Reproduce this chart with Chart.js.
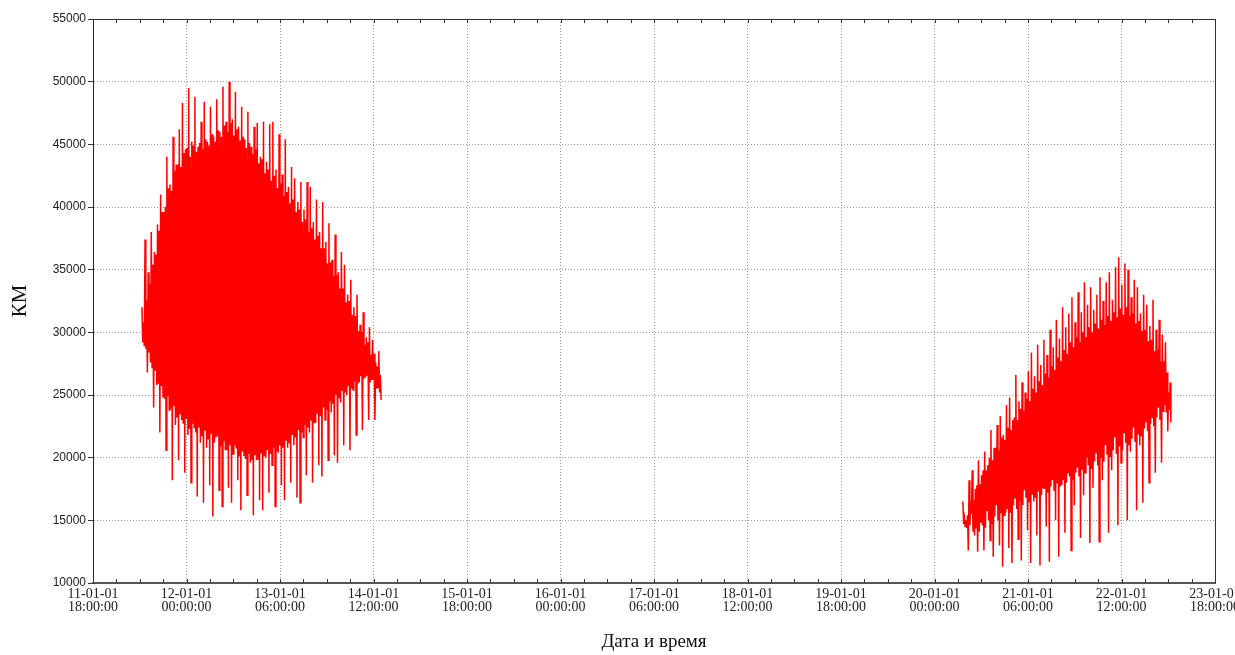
<!DOCTYPE html>
<html lang="ru">
<head>
<meta charset="UTF-8">
<title>КМ</title>
<script src="https://cdn.jsdelivr.net/npm/chart.js"></script>
<style>
    body { margin: 0; background: #fff; }
    canvas { display: block; }
</style>
</head>
<body>
<canvas id="grafico" width="1235" height="655"></canvas>
<script>
// hours counted from the first tick (11-01-01 18:00:00), one tick every 30 h
var tickDates = ['11-01-01', '12-01-01', '13-01-01', '14-01-01', '15-01-01', '16-01-01', '17-01-01',
                 '18-01-01', '19-01-01', '20-01-01', '21-01-01', '22-01-01', '23-01-01'];
var tickTimes = ['18:00:00', '00:00:00', '06:00:00', '12:00:00', '18:00:00', '00:00:00', '06:00:00',
                 '12:00:00', '18:00:00', '00:00:00', '06:00:00', '12:00:00', '18:00:00'];

// first pass, one group per hour: peak, inner low, inner high, dip (KM)
var pass1Start = 15.7;
var pass1Peak = [32000, 37400, 34800, 38000, 36400, 38600, 41000, 39600, 44000, 41800,
                 45600, 43400, 46200, 48300, 44600, 49500, 45200, 48800, 44800, 46800,
                 48400, 45200, 48000, 45600, 48600, 46000, 49600, 46800, 50000, 47000,
                 49200, 46400, 48000, 45400, 47600, 44800, 46400, 46700, 44000, 46800,
                 43600, 46600, 46800, 43000, 45800, 42600, 45400, 41600, 43200, 42300,
                 40400, 42000, 39800, 42000, 41600, 38800, 40600, 38000, 40400, 37200,
                 38700, 35800, 37800, 34800, 36400, 35400, 33000, 34200, 32000, 33000,
                 30600, 31600, 29600, 30400, 29400, 27600, 28500];
var pass1InnerLow = [29200, 28700, 28400, 27200, 27000, 25900, 25700, 24700, 24900, 23900,
                     24100, 23200, 23500, 22700, 23100, 22300, 22700, 22000, 22400, 21700,
                     22200, 21500, 21900, 21200, 21700, 20900, 21300, 20600, 21000, 20300,
                     20800, 20100, 20500, 19900, 20300, 19800, 20200, 19900, 20400, 20100,
                     20600, 20300, 20800, 20500, 21000, 20800, 21400, 21200, 21800, 21600,
                     22200, 22000, 22600, 22400, 23000, 22800, 23500, 23300, 24000, 23800,
                     24500, 24300, 25000, 24800, 25400, 25200, 25700, 25500, 26100, 25900,
                     26500, 26300, 26600, 26000, 26200, 25500, 25200];
var pass1InnerHigh = [30800, 32600, 33900, 35400, 36200, 38100, 39600, 40000, 41500, 41300,
                      42900, 43400, 43200, 44300, 44700, 44000, 44900, 44400, 45100, 44600,
                      45400, 44900, 45800, 45200, 46100, 45600, 46500, 46000, 46700, 45700,
                      46200, 45300, 45600, 44700, 45100, 44200, 44600, 43500, 43800, 42700,
                      43000, 42100, 42500, 41500, 41900, 40900, 41200, 40300, 40600, 39600,
                      39800, 38800, 39000, 38000, 38300, 37400, 37700, 36700, 36700, 35500,
                      35600, 34500, 34600, 33500, 33500, 32400, 32500, 31400, 31300, 30100,
                      30000, 29000, 29200, 28200, 28300, 27300, 26600];
var pass1Dip = [28900, 26800, 27600, 24000, 25800, 22000, 24800, 20600, 23800, 18200,
                22600, 19800, 23000, 18800, 21800, 18000, 22400, 16900, 21200, 16400,
                20800, 17800, 15300, 21600, 17400, 16100, 20600, 17600, 16400, 21000,
                18200, 15800, 20200, 17000, 19600, 15400, 19800, 16600, 15800, 20000,
                17200, 19400, 16100, 20400, 17800, 16600, 20800, 18000, 21000, 16800,
                16400, 21600, 18600, 22000, 18000, 22800, 19400, 18500, 23000, 19800,
                23600, 20200, 19600, 24400, 21000, 25000, 20600, 25400, 21800, 26000,
                22200, 26400, 23000, 26200, 23000, 25600, 24600];

// second pass
var pass2Start = 279.1;
var pass2Peak = [16500, 15000, 18200, 19000, 17500, 19800, 18600, 20500, 19400, 22200,
                 20800, 22600, 23300, 21800, 24200, 24800, 23000, 26600, 24500, 26000,
                 25200, 26900, 28400, 26500, 29000, 27400, 29400, 28200, 30200, 28800,
                 31000, 29500, 32000, 30400, 31500, 32800, 30800, 33200, 31600, 34000,
                 32200, 33600, 31800, 33000, 34400, 32500, 34000, 34800, 32600, 35200,
                 36000, 33800, 35500, 35000, 32800, 34200, 33600, 31500, 33000, 32200,
                 30500, 32600, 30200, 31000, 29800, 29200, 25200];
var pass2InnerLow = [14700, 14400, 14600, 14100, 14400, 14100, 14600, 14400, 15000, 14700,
                     15300, 15000, 15600, 15400, 15900, 15600, 16200, 15900, 16500, 16200,
                     16800, 16500, 17100, 16800, 17300, 17000, 17500, 17200, 17700, 17400,
                     18000, 17700, 18200, 18000, 18500, 18200, 18800, 18500, 19100, 18800,
                     19400, 19100, 19700, 19400, 20000, 19700, 20300, 20100, 20600, 20300,
                     20900, 20600, 21200, 21000, 21500, 21300, 21900, 21700, 22300, 22100,
                     22700, 22500, 23200, 23000, 23700, 23600, 23800];
var pass2InnerHigh = [15200, 15400, 16500, 16600, 17800, 17900, 19000, 19000, 20000, 19800,
                      20800, 20600, 21600, 21400, 22400, 22200, 23200, 23000, 23900, 23700,
                      24700, 24500, 25500, 25200, 26100, 25800, 26700, 26400, 27300, 27000,
                      28000, 27700, 28600, 28300, 29200, 28800, 29600, 29200, 30000, 29600,
                      30400, 30000, 30700, 30300, 31000, 30600, 31300, 30900, 31600, 31200,
                      31900, 31400, 32000, 31300, 31500, 30700, 30900, 30100, 30200, 29300,
                      29400, 28500, 28600, 27700, 27700, 26800, 26000];
var pass2Dip = [14500, 12600, 15500, 13800, 12500, 14800, 12600, 15800, 13400, 12100,
                16200, 13000, 11300, 15600, 12800, 11600, 16800, 13500, 11800, 17400,
                14200, 11600, 16500, 13800, 11400, 17600, 14500, 11700, 18200, 15000,
                12100, 17800, 14000, 18800, 12600, 16200, 19200, 13600, 17000, 20000,
                13200, 17600, 20400, 13300, 18200, 21000, 14000, 19000, 21600, 14600,
                19600, 22000, 15000, 20500, 22400, 15800, 21000, 16400, 22800, 18000,
                23200, 18800, 24000, 19600, 24200, 22100, 22800];

// four samples per hour, in time order
function buildSeries(start, peak, innerLow, innerHigh, dip) {
    var pts = [];
    for (var i = 0; i < peak.length; i++) {
        pts.push({ x: start + i, y: peak[i] });
        pts.push({ x: start + i + 0.25, y: innerLow[i] });
        pts.push({ x: start + i + 0.5, y: innerHigh[i] });
        pts.push({ x: start + i + 0.75, y: dip[i] });
    }
    return pts;
}

var framePlugin = {
    id: 'frame',
    afterDraw: function (chart) {
        var ctx = chart.ctx, a = chart.chartArea, x = chart.scales.x;
        ctx.save();
        ctx.strokeStyle = '#333';
        ctx.lineWidth = 1;
        ctx.beginPath();
        ctx.moveTo(a.left, a.top + 0.5);
        ctx.lineTo(a.right + 0.5, a.top + 0.5);
        ctx.lineTo(a.right + 0.5, a.bottom);
        x.ticks.forEach(function (t) {
            var px = Math.round(x.getPixelForValue(t.value)) + 0.5;
            ctx.moveTo(px, a.bottom);
            ctx.lineTo(px, a.bottom - 4);
            ctx.moveTo(px, a.top);
            ctx.lineTo(px, a.top + 4);
        });
        ctx.stroke();
        ctx.restore();
    }
};

var grafico = new Chart(document.getElementById('grafico').getContext('2d'), {
    type: 'line',
    data: {
        datasets: [
            {
                data: buildSeries(pass1Start, pass1Peak, pass1InnerLow, pass1InnerHigh, pass1Dip),
                borderColor: '#ff0000', borderWidth: 1.5, pointRadius: 0, tension: 0
            },
            {
                data: buildSeries(pass2Start, pass2Peak, pass2InnerLow, pass2InnerHigh, pass2Dip),
                borderColor: '#ff0000', borderWidth: 1.5, pointRadius: 0, tension: 0
            }
        ]
    },
    options: {
        responsive: false,
        animation: false,
        layout: { padding: { top: 19, right: 20, left: 0, bottom: 0 } },
        plugins: { legend: { display: false }, tooltip: { enabled: false } },
        scales: {
            x: {
                type: 'linear',
                min: 0,
                max: 360,
                ticks: {
                    stepSize: 7.5,
                    autoSkip: false,
                    maxRotation: 0,
                    padding: 5,
                    color: '#222',
                    font: { family: 'Liberation Serif', size: 14, lineHeight: 0.9 },
                    callback: function (v) {
                        if (v % 30 !== 0) return '';
                        return [tickDates[v / 30], tickTimes[v / 30]];
                    }
                },
                grid: {
                    drawTicks: false,
                    color: function (c) { return c.tick && c.tick.value % 30 === 0 ? '#9a9a9a' : 'rgba(0,0,0,0)'; }
                },
                border: { display: true, color: '#555', width: 2, dash: [1, 2] },
                title: {
                    display: true,
                    text: 'Дата и время',
                    color: '#111',
                    font: { family: 'Liberation Serif', size: 19 },
                    padding: { top: 0, bottom: 2 }
                },
                afterFit: function (s) { s.height = 72; s.paddingLeft = 0; s.paddingRight = 0; }
            },
            y: {
                min: 10000,
                max: 55000,
                ticks: {
                    stepSize: 5000,
                    padding: 2,
                    color: '#222',
                    font: { family: 'Liberation Sans', size: 12 },
                    callback: function (v) { return String(v); }
                },
                grid: {
                    color: '#9a9a9a',
                    tickColor: '#333',
                    tickLength: 5
                },
                border: { display: true, color: '#222', width: 1, dash: [1, 2] },
                title: {
                    display: true,
                    text: 'КМ',
                    color: '#111',
                    font: { family: 'Liberation Serif', size: 21 },
                    padding: { top: 8, bottom: 0 }
                },
                afterFit: function (s) { s.width = 93; s.paddingTop = 0; s.paddingBottom = 0; }
            }
        }
    },
    plugins: [framePlugin]
});
</script>
</body>
</html>
